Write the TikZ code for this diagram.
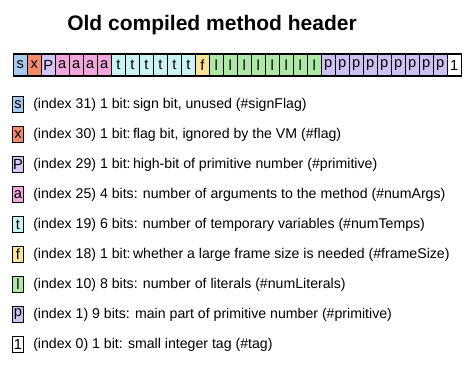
\documentclass[tikz,border=0pt]{standalone}
\usepackage{fontspec}
\setmainfont{Liberation Sans}
\usepackage{tikz}
\usetikzlibrary{positioning}

\definecolor{colS}{HTML}{A9C9F0}
\definecolor{colX}{HTML}{F28B6B}
\definecolor{colP}{HTML}{D6C6F8}
\definecolor{colA}{HTML}{F3A6DC}
\definecolor{colT}{HTML}{CAF4F4}
\definecolor{colF}{HTML}{FBE49A}
\definecolor{colL}{HTML}{AEE8A6}
\definecolor{colPP}{HTML}{CFC0F4}
\definecolor{colOne}{HTML}{FFFFFF}

\begin{document}
\begin{tikzpicture}[x=0.75pt,y=-0.75pt]
 \tikzstyle{bitcell} = [draw=black,thick,minimum width=10.5pt,minimum height=16.5pt,inner sep=0pt,font=\fontsize{11}{13}\selectfont];
 \tikzstyle{keybox}  = [draw=black,thick,minimum width=8.25pt,minimum height=11.5pt,inner sep=0pt,font=\fontsize{11}{13}\selectfont];
 \tikzstyle{keytext} = [anchor=west,inner sep=0pt,font=\fontsize{10.6}{13}\selectfont];
 \tikzstyle{heading} = [font=\fontsize{15.75}{18}\selectfont\bfseries];

 \useasboundingbox (0,0) rectangle (474,367);

 %% title
 \node[heading,name=title] at (212,25) {Old compiled method header};

 %% the 32 bits of the header word
 \foreach \lbl/\col [count=\i from 0] in {s/colS,x/colX,P/colP,a/colA,a/colA,a/colA,a/colA,%
   t/colT,t/colT,t/colT,t/colT,t/colT,t/colT,f/colF,%
   l/colL,l/colL,l/colL,l/colL,l/colL,l/colL,l/colL,l/colL,%
   p/colPP,p/colPP,p/colPP,p/colPP,p/colPP,p/colPP,p/colPP,p/colPP,p/colPP,1/colOne}
   \node[bitcell,fill=\col,name=bit\i] at (20.3+14*\i,65) {\lbl};

 %% legend
 \foreach \lbl/\col/\txt [count=\k from 0] in {%
   s/colS/{(index 31) 1 bit:\,sign bit, unused (\#signFlag)},%
   x/colX/{(index 30) 1 bit:\,flag bit, ignored by the VM (\#flag)},%
   P/colP/{(index 29) 1 bit:\,high-bit of primitive number (\#primitive)},%
   a/colA/{(index 25) 4 bits: number of arguments to the method (\#numArgs)},%
   t/colT/{(index 19) 6 bits: number of temporary variables (\#numTemps)},%
   f/colF/{(index 18) 1 bit:\,whether a large frame size is needed (\#frameSize)},%
   l/colL/{(index 10) 8 bits: number of literals (\#numLiterals)},%
   p/colPP/{(index 1) 9 bits: main part of primitive number (\#primitive)},%
   1/colOne/{(index 0) 1 bit: small integer tag (\#tag)}}
 {
   \node[keybox,fill=\col,name=key\k] at (18,104.5+30*\k) {\lbl};
   \node[keytext,name=desc\k] at (33,104.5+30*\k) {\txt};
 }

\end{tikzpicture}
\end{document}
